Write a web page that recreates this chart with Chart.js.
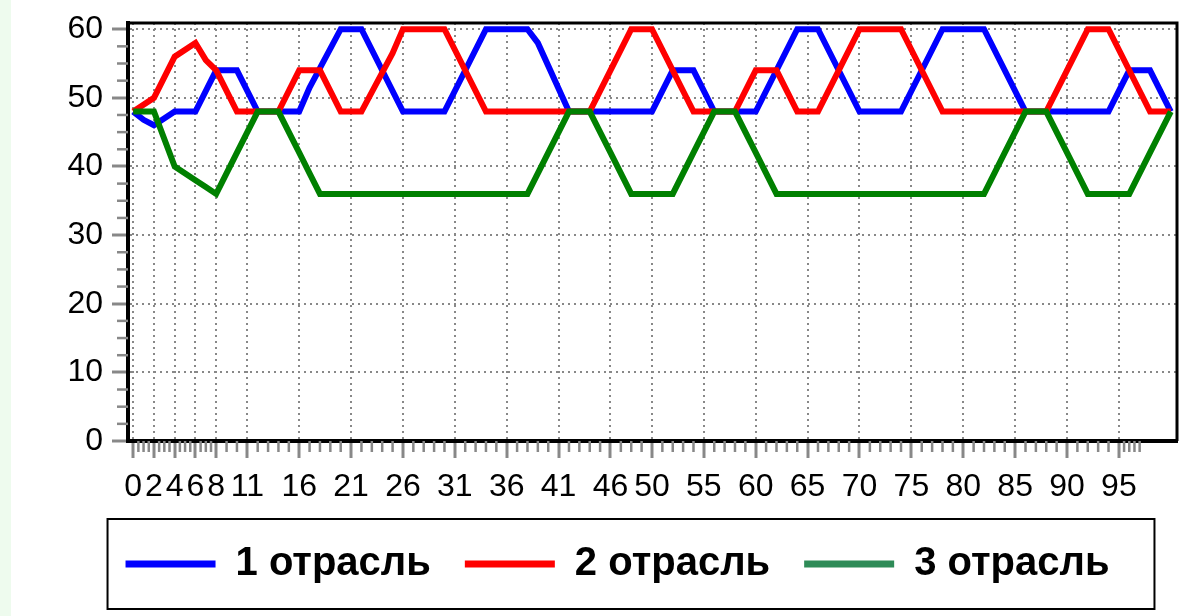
<!DOCTYPE html>
<html>
<head>
<meta charset="utf-8">
<script src="https://cdn.jsdelivr.net/npm/chart.js@4.4.1/dist/chart.umd.min.js"></script>
<style>
html, body { margin: 0; padding: 0; background: #fff; }
body { width: 1190px; height: 616px; position: relative; overflow: hidden; }
#strip { position: absolute; left: 0; top: 0; width: 11px; height: 616px; background: #eefbee; }
#wrap { position: absolute; left: 0; top: 0; width: 1190px; height: 616px; }
</style>
</head>
<body>
<div id="strip"></div>
<div id="wrap"><canvas id="chart"></canvas></div>
<script>
const names = ['1 отрасль', '2 отрасль', '3 отрасль'];
const xTicks = [0, 2, 4, 6, 8, 11, 16, 21, 26, 31, 36, 41, 46, 50, 55, 60, 65, 70, 75, 80, 85, 90, 95];
const yTicks = [0, 10, 20, 30, 40, 50, 60];

// vertices of each line
const x1 = [0, 1, 2, 4, 6, 8, 10, 12, 16, 17, 20, 22, 26, 30, 34, 38, 39, 42, 50, 52, 54, 56, 60, 64, 66, 70, 74, 78, 82, 86, 94, 95, 96, 98, 100];
const y1 = [48, 46.8, 46, 48, 48, 54, 54, 48, 48, 51.5, 60, 60, 48, 48, 60, 60, 58, 48, 48, 54, 54, 48, 48, 60, 60, 48, 48, 60, 60, 48, 48, 51, 54, 54, 48];

const x2 = [0, 2, 4, 6, 7, 8, 9, 10, 14, 16, 18, 20, 22, 25, 26, 30, 31, 34, 44, 46, 48, 50, 54, 58, 60, 62, 64, 66, 68, 70, 74, 75, 78, 88, 90, 92, 94, 95, 98, 100];
const y2 = [48, 50, 56, 58, 55.5, 54, 51, 48, 48, 54, 54, 48, 48, 56.5, 60, 60, 57, 48, 48, 54, 60, 60, 48, 48, 54, 54, 48, 48, 54, 60, 60, 57, 48, 48, 54, 60, 60, 57, 48, 48];

const x3 = [0, 2, 4, 6, 7, 8, 10, 12, 14, 16, 17, 18, 38, 42, 44, 46, 48, 52, 54, 56, 58, 60, 62, 82, 84, 86, 88, 90, 92, 96, 98, 100];
const y3 = [48, 48, 40, 38, 37, 36, 42, 48, 48, 42, 39, 36, 36, 48, 48, 42, 36, 36, 42, 48, 48, 42, 36, 36, 42, 48, 48, 42, 36, 36, 42, 48];

const lineColors = ['#0000ff', '#ff0000', '#008000'];
const legendColors = ['#0000ff', '#ff0000', '#2e8b57'];
const family = "'Liberation Sans', Arial, sans-serif";

// minor tick marks
const xMinor = [];
for (let v = 0.5; v < 8; v += 0.5) if (v % 2) xMinor.push(v);
for (let v = 9; v <= 97; v++) if (!xTicks.includes(v)) xMinor.push(v);
xMinor.push(95.5, 96.5);
const yMinor = [];
for (let v = 2.5; v < 60; v += 2.5) if (v % 10) yMinor.push(v);

const pts = (xs, ys) => xs.map((x, i) => ({ x: x, y: ys[i] }));

const decor = {
  id: 'decor',
  afterLayout(chart) {
    // legend sits a little right of centre in the original
    chart.legend.left += 24;
    chart.legend.right += 24;
  },
  afterDraw(chart) {
    const { ctx, chartArea: a, scales: { x, y } } = chart;
    ctx.save();
    ctx.strokeStyle = '#888';
    ctx.lineWidth = 2.5;
    xMinor.forEach(v => {
      const p = x.getPixelForValue(v);
      ctx.beginPath(); ctx.moveTo(p, a.bottom); ctx.lineTo(p, a.bottom + 11); ctx.stroke();
    });
    yMinor.forEach(v => {
      const p = y.getPixelForValue(v);
      ctx.beginPath(); ctx.moveTo(a.left, p); ctx.lineTo(a.left - 11, p); ctx.stroke();
    });
    // top and right frame
    ctx.strokeStyle = '#000';
    ctx.lineWidth = 3;
    ctx.beginPath();
    ctx.moveTo(a.left, a.top); ctx.lineTo(a.right, a.top); ctx.lineTo(a.right, a.bottom);
    ctx.stroke();
    // box round the legend
    const hb = chart.legend.legendHitBoxes;
    if (hb && hb.length) {
      const first = hb[0], last = hb[hb.length - 1];
      const cy = first.top + first.height / 2;
      ctx.lineWidth = 2;
      ctx.strokeRect(first.left - 18, cy - 45, last.left + last.width + 45 - (first.left - 18), 90);
    }
    ctx.restore();
  }
};

new Chart(document.getElementById('chart'), {
  type: 'line',
  data: {
    datasets: [
      { label: names[0], data: pts(x1, y1), borderColor: lineColors[0], borderWidth: 6, order: 3 },
      { label: names[1], data: pts(x2, y2), borderColor: lineColors[1], borderWidth: 6, order: 2 },
      { label: names[2], data: pts(x3, y3), borderColor: lineColors[2], borderWidth: 6, order: 1 }
    ]
  },
  options: {
    responsive: true,
    maintainAspectRatio: false,
    animation: false,
    layout: { padding: { left: 10, right: 13, top: 23, bottom: 22 } },
    elements: {
      line: { tension: 0, fill: false },
      point: { radius: 0, hoverRadius: 0 }
    },
    plugins: {
      tooltip: { enabled: false },
      legend: {
        position: 'bottom',
        labels: {
          boxWidth: 90,
          boxHeight: 7,
          padding: 34,
          color: '#000',
          font: { family: family, size: 40, weight: 'bold' },
          generateLabels: chart => chart.data.datasets.map((d, i) => ({
            text: d.label, fillStyle: legendColors[i], strokeStyle: legendColors[i],
            lineWidth: 0, hidden: false, datasetIndex: i
          }))
        }
      }
    },
    scales: {
      x: {
        type: 'linear',
        min: -0.5,
        max: 100.6,
        afterBuildTicks: s => { s.ticks = xTicks.map(v => ({ value: v })); },
        afterFit: s => { s.height = 69; s.paddingLeft = 0; s.paddingRight = 0; },
        grid: { color: '#888', lineWidth: 2, tickColor: '#888', tickWidth: 3, tickLength: 17, tickBorderDash: [] },
        border: { color: '#000', width: 4, dash: [2, 4] },
        ticks: { autoSkip: false, maxRotation: 0, color: '#000', padding: 10, font: { family: family, size: 32 } }
      },
      y: {
        min: 0,
        max: 60.9,
        afterBuildTicks: s => { s.ticks = yTicks.map(v => ({ value: v })); },
        afterFit: s => { s.width = 118; s.paddingTop = 0; s.paddingBottom = 0; },
        grid: { color: '#888', lineWidth: 2, tickColor: '#888', tickWidth: 3, tickLength: 16, tickBorderDash: [] },
        border: { color: '#000', width: 4, dash: [2, 4] },
        ticks: { color: '#000', padding: 9, font: { family: family, size: 32 } }
      }
    }
  },
  plugins: [decor]
});
</script>
</body>
</html>
